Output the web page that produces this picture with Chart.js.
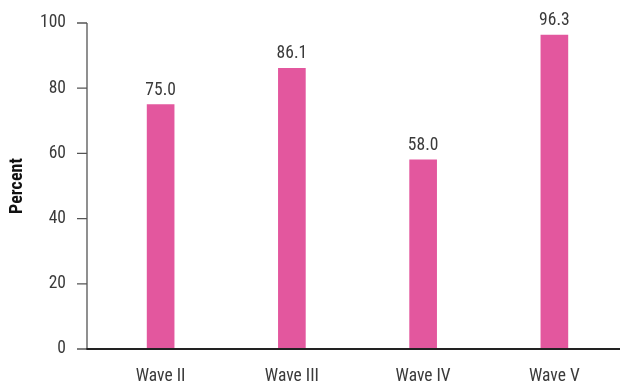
<!DOCTYPE html>
<html>
<head>
<meta charset="utf-8">
<script src="https://cdn.jsdelivr.net/npm/chart.js@4/dist/chart.umd.min.js"></script>
<style>
  html, body { margin: 0; padding: 0; background: #fff; }
  #wrap { width: 620px; height: 383px; }
</style>
</head>
<body>
<div id="wrap"><canvas id="c" width="620" height="383"></canvas></div>
<script>
const categories = ['Wave II', 'Wave III', 'Wave IV', 'Wave V'];
const percentValues = [75.0, 86.1, 58.0, 96.3];
const yTickValues = [0, 20, 40, 60, 80, 100];

const FONT = "'Roboto Condensed', 'Liberation Sans Narrow', Roboto, sans-serif";
const TEXT = '#3a3a3a';

// Axis lines, tick marks and value labels above the bars
const axesAndLabels = {
  id: 'axesAndLabels',
  afterDatasetsDraw(chart) {
    const { ctx, chartArea, scales } = chart;
    const y = scales.y;
    const axisX = 87;
    const y0 = y.getPixelForValue(0);
    const yTop = y.getPixelForValue(100);
    ctx.save();
    // vertical axis with ticks
    ctx.strokeStyle = '#555';
    ctx.lineWidth = 1.3;
    ctx.beginPath();
    ctx.moveTo(axisX, yTop);
    ctx.lineTo(axisX, y0);
    yTickValues.forEach(v => {
      const py = y.getPixelForValue(v);
      ctx.moveTo(axisX - 10, py);
      ctx.lineTo(axisX, py);
    });
    ctx.stroke();
    // horizontal baseline
    ctx.strokeStyle = '#222';
    ctx.lineWidth = 2.2;
    ctx.beginPath();
    ctx.moveTo(axisX - 0.6, y0);
    ctx.lineTo(chartArea.right, y0);
    ctx.stroke();
    // value labels
    ctx.fillStyle = TEXT;
    ctx.font = '17.5px ' + FONT;
    ctx.textAlign = 'center';
    ctx.textBaseline = 'alphabetic';
    const meta = chart.getDatasetMeta(0);
    meta.data.forEach((bar, i) => {
      ctx.fillText(percentValues[i].toFixed(1), bar.x, bar.y - 10);
    });
    ctx.restore();
  }
};

new Chart(document.getElementById('c'), {
  type: 'bar',
  data: {
    labels: categories,
    datasets: [{
      data: percentValues,
      backgroundColor: '#E3579E',
      borderWidth: 0,
      barThickness: 27
    }]
  },
  options: {
    responsive: false,
    animation: false,
    devicePixelRatio: 1,
    layout: { padding: { top: 23, right: 0, bottom: 0, left: 0 } },
    plugins: {
      legend: { display: false },
      tooltip: { enabled: false }
    },
    scales: {
      x: {
        grid: { display: false },
        border: { display: false },
        ticks: {
          color: TEXT,
          font: { family: FONT, size: 17.5 },
          padding: 9,
          maxRotation: 0
        },
        afterFit(scale) { scale.height = 34; }
      },
      y: {
        min: 0,
        max: 100,
        // invisible tick marks reserve the gap between labels and the plot
        grid: {
          display: true,
          drawOnChartArea: false,
          drawTicks: true,
          tickLength: 29,
          color: 'rgba(0,0,0,0)'
        },
        border: { display: false },
        afterBuildTicks(scale) {
          scale.ticks = yTickValues.map(v => ({ value: v }));
        },
        ticks: {
          color: TEXT,
          font: { family: FONT, size: 17.5 },
          padding: 0
        },
        title: {
          display: true,
          text: 'Percent',
          color: '#111',
          font: { family: FONT, size: 18, weight: 'bold' },
          padding: { top: 7, bottom: 0 }
        },
        afterFit(scale) { scale.width = 95; }
      }
    }
  },
  plugins: [axesAndLabels]
});
</script>
</body>
</html>
